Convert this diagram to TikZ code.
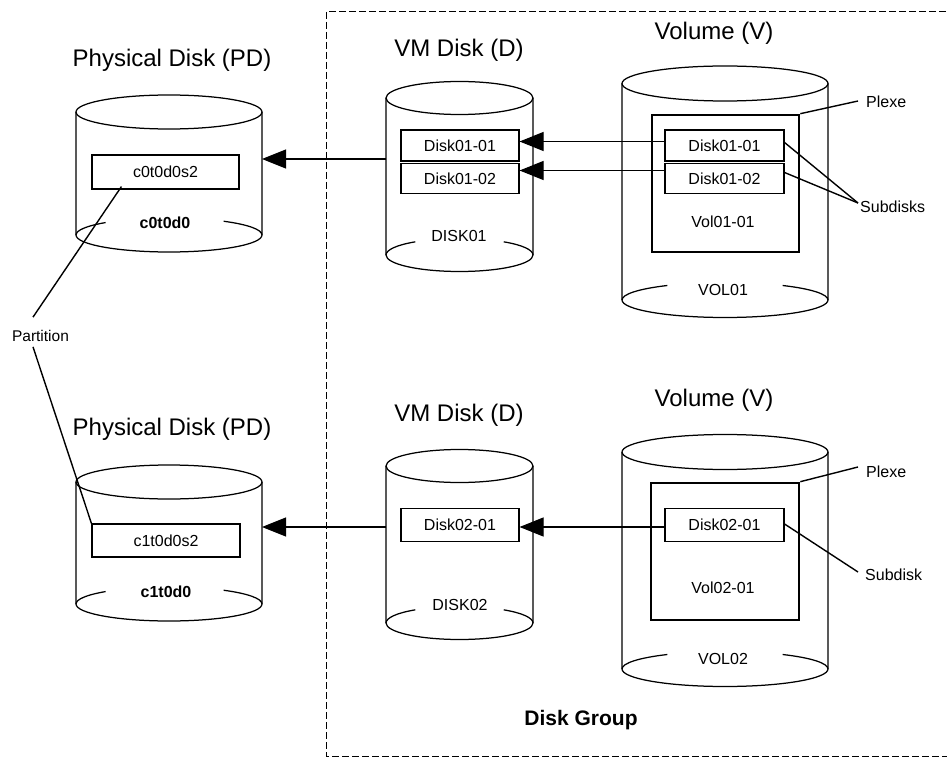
\documentclass[tikz,border=0pt]{standalone}
\usepackage{fontspec}
\setmainfont{Liberation Sans}
\usetikzlibrary{arrows.meta,calc}
\newcommand{\mycyl}[7]{%
 \draw[cyl] (#1,#4) ellipse [x radius=#2pt, y radius=#3pt];
 \draw[cyl] ({#1-#2},#4) -- ({#1-#2},#5) arc[start angle=180,end angle=360,x radius=#2pt,y radius=#3pt] -- ({#1+#2},#4);
 \draw[cyl] ({#1-#2},#5) arc[start angle=180,end angle={180-#6},x radius=#2pt,y radius=#3pt];
 \draw[cyl] ({#1+#2},#5) arc[start angle=0,end angle=#7,x radius=#2pt,y radius=#3pt];
}
\begin{document}
\begin{tikzpicture}[x=1pt,y=-1pt,
  cyl/.style={line width=1.25pt},
  box/.style={draw,line width=1.1pt,inner sep=0pt,font=\fontsize{16}{19}\selectfont},
  plexe/.style={draw,line width=2.6pt,inner sep=0pt},
  lbl/.style={inner sep=0pt,font=\fontsize{16}{19}\selectfont},
  bold/.style={inner sep=0pt,font=\fontsize{16}{19}\selectfont\bfseries},
  title/.style={inner sep=0pt,font=\fontsize{24}{29}\selectfont},
  arr/.style={line width=1.1pt,-{Triangle[length=24pt,width=19pt]}},
  conn/.style={line width=1.4pt},
]
\useasboundingbox (0,0) rectangle (947,759);
\fill[white] (0,0) rectangle (947,759);
% disk group frame
\draw[line width=1pt, dash pattern=on 7pt off 3pt] (326,12) rectangle (952,756);
\node[font=\fontsize{21}{25}\selectfont\bfseries, inner sep=0pt] (dg) at (581,720) {Disk Group};
% titles
\node[title] (t1) at (172,60) {Physical Disk (PD)};
\node[title] (t2) at (172,429) {Physical Disk (PD)};
\node[title] (t3) at (459,50) {VM Disk (D)};
\node[title] (t4) at (459,415) {VM Disk (D)};
\node[title] (t5) at (714,33) {Volume (V)};
\node[title] (t6) at (714,400) {Volume (V)};
% cylinders
\mycyl{169}{93}{17}{112}{235}{47}{54}
\mycyl{169}{93}{17}{482}{604}{47}{54}
\mycyl{459.5}{73.5}{16.5}{98}{255}{53}{53}
\mycyl{459.5}{73.5}{16.5}{466}{623}{53}{53}
\mycyl{725}{103}{17.5}{83.5}{300}{56}{56}
\mycyl{725}{103}{17.5}{452}{669}{56}{56}
% cylinder labels
\node[bold] (l1) at (165,223) {c0t0d0};
\node[bold] (l2) at (166,592) {c1t0d0};
\node[lbl] (l3) at (459,236) {DISK01};
\node[lbl] (l4) at (460,605) {DISK02};
\node[lbl] (l5) at (723,290) {VOL01};
\node[lbl] (l6) at (723,659) {VOL02};
% plexes
\node[plexe,minimum width=147pt,minimum height=137pt] (p1) at (725.5,183.5) {};
\node[plexe,minimum width=148pt,minimum height=137pt] (p2) at (725,551.5) {};
\node[lbl] (l7) at (723,222) {Vol01-01};
\node[lbl] (l8) at (723,588) {Vol02-01};
% boxes
\node[box,minimum width=147pt,minimum height=34pt] (s1) at (165.5,172) {c0t0d0s2};
\node[box,minimum width=148pt,minimum height=33pt] (s2) at (166,540.5) {c1t0d0s2};
\node[box,minimum width=118pt,minimum height=31pt] (d11) at (460,145.5) {Disk01-01};
\node[box,minimum width=118pt,minimum height=30pt] (d12) at (460,178.5) {Disk01-02};
\node[box,minimum width=118pt,minimum height=33pt] (d21) at (460,525) {Disk02-01};
\node[box,minimum width=119pt,minimum height=31pt] (v11) at (724.5,145.5) {Disk01-01};
\node[box,minimum width=119pt,minimum height=30pt] (v12) at (724.5,178.5) {Disk01-02};
\node[box,minimum width=119pt,minimum height=33pt] (v21) at (724.5,525) {Disk02-01};
% arrows
\draw[arr] ([yshift=4pt]v11.west) -- ([yshift=4pt]d11.east);
\draw[arr] ([yshift=8pt]v12.west) -- ([yshift=8pt]d12.east);
\draw[arr] ([yshift=-2pt]v21.west) -- ([yshift=-2pt]d21.east);
\coordinate (vm1w) at (386,159);
\coordinate (pd1e) at (262,159);
\coordinate (vm2w) at (386,527);
\coordinate (pd2e) at (262,527);
\draw[arr] (vm1w) -- (pd1e);
\draw[arr] (vm2w) -- (pd2e);
% right labels
\node[lbl,anchor=west] (pl1) at (866,102) {Plexe};
\node[lbl,anchor=west] (pl2) at (866,472) {Plexe};
\node[lbl,anchor=west] (sd1) at (860,207) {Subdisks};
\node[lbl,anchor=west] (sd2) at (865,575) {Subdisk};
\draw[conn] (p1.north east) -- ([xshift=-8pt,yshift=1pt]pl1.west);
\draw[conn] (p2.north east) -- ([xshift=-8pt,yshift=5pt]pl2.west);
\draw[conn] ([yshift=3pt]v11.east) -- ([xshift=-2pt,yshift=4pt]sd1.west);
\draw[conn] ([yshift=6pt]v12.east) -- ([xshift=-2pt,yshift=4pt]sd1.west);
\draw[conn] ([yshift=1pt]v21.east) -- ([xshift=-7pt,yshift=3pt]sd2.west);
% partition
\node[inner sep=0pt,font=\fontsize{15.5}{18}\selectfont] (part) at (40.5,336) {Partition};
\draw[conn] ([xshift=-7.5pt,yshift=13pt]part.north) -- ([xshift=30pt,yshift=3pt]s1.south west);
\draw[conn] ([xshift=-7.5pt,yshift=-5pt]part.south) -- (s2.north west);
\end{tikzpicture}
\end{document}
